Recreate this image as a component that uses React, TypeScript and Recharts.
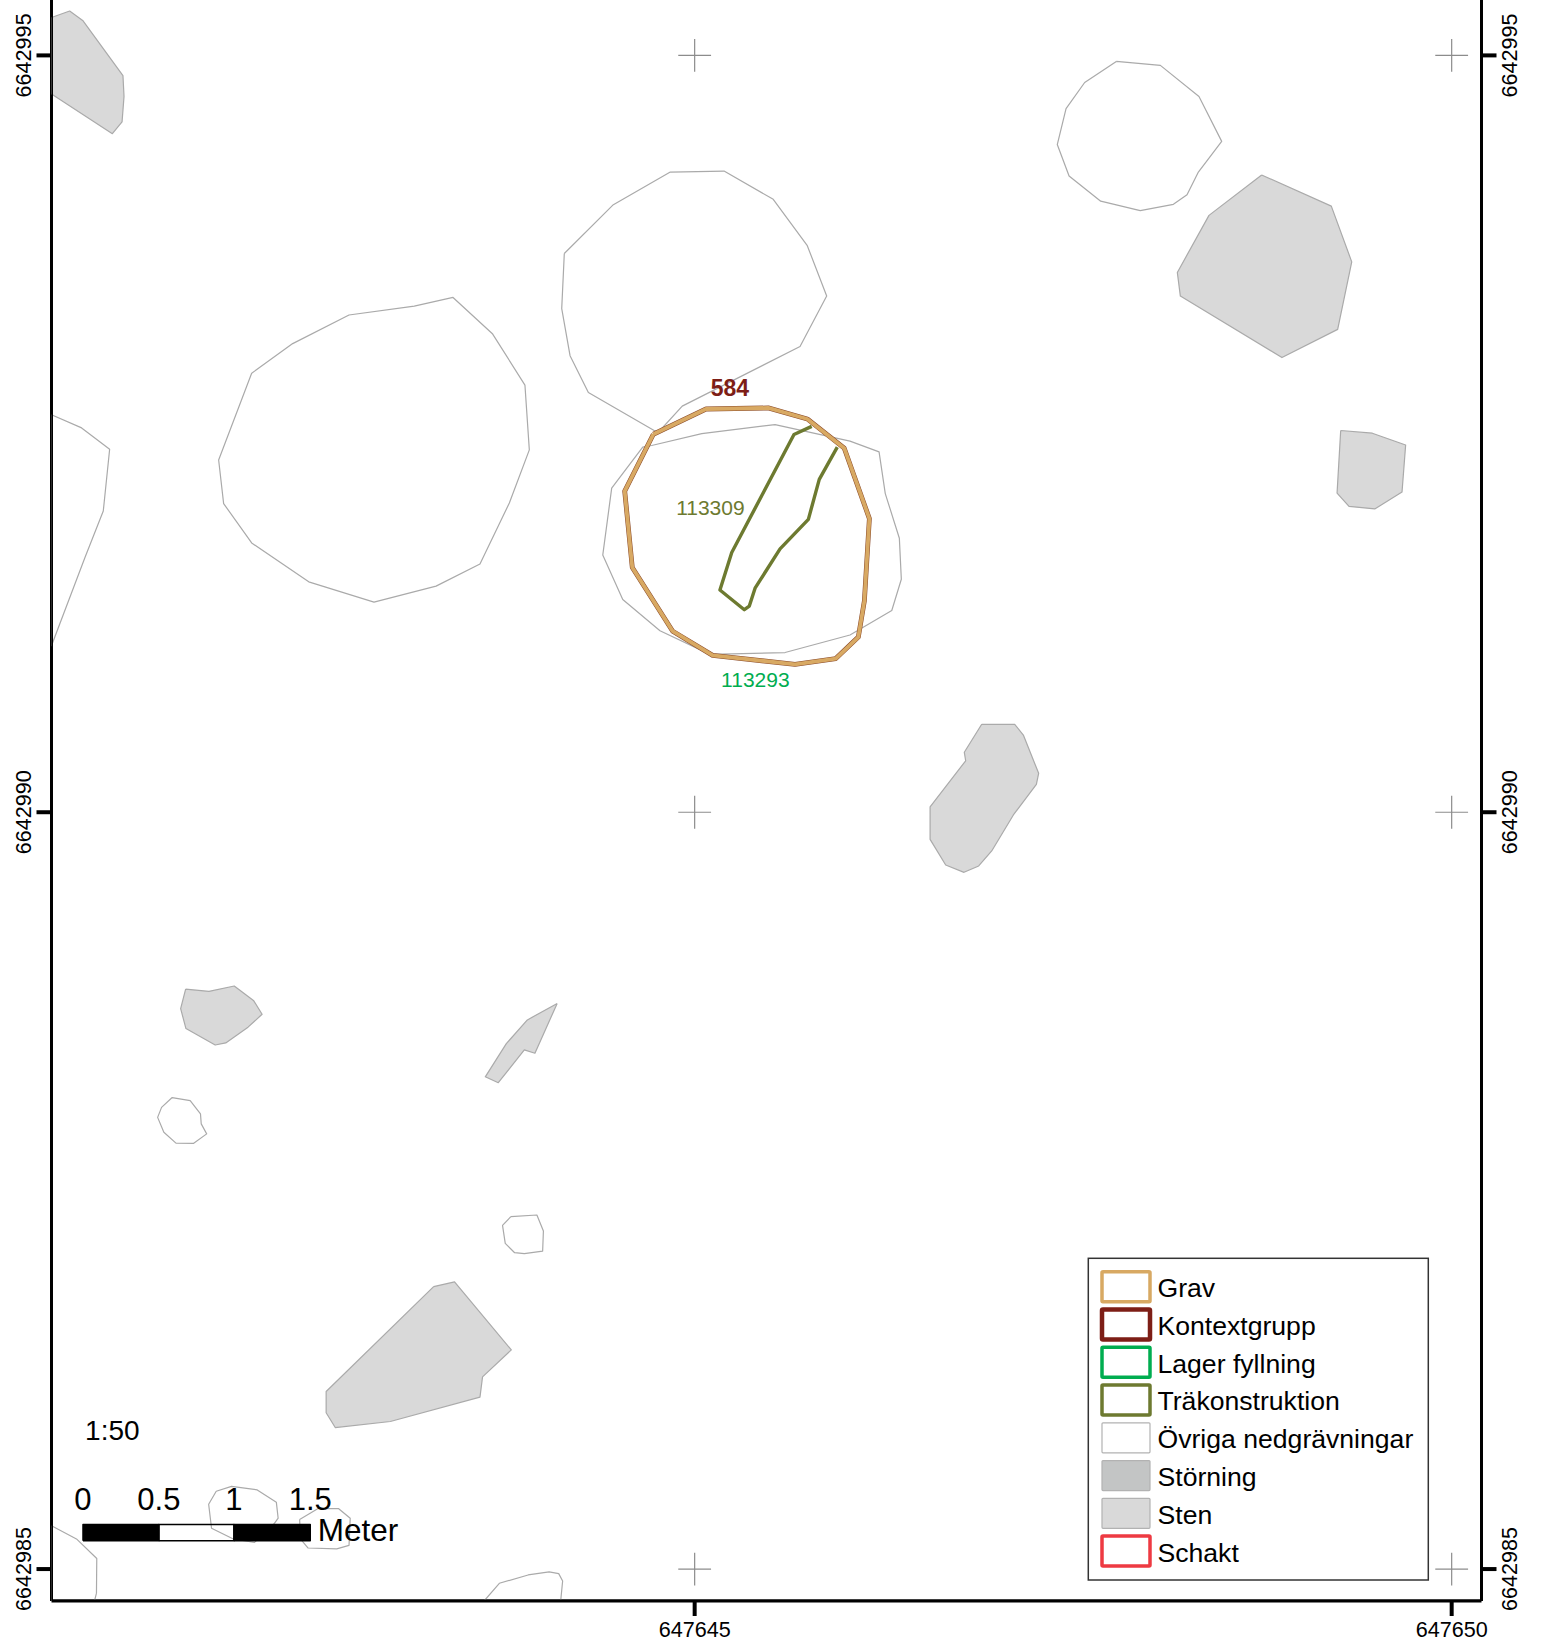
import { ScatterChart, Scatter, XAxis, YAxis } from "recharts";

// map origin, all outlines below are metres east / north of this point
const E0 = 647640;
const N0 = 6642985;

const eastTicks = [647645, 647650];
const northTicks = [6642985, 6642990, 6642995];

type Ring = number[][];

const stenRings: Ring[] = [
  [[0.752, 10.25], [0.872, 10.293], [0.958, 10.231], [1.224, 9.866], [1.231, 9.729], [1.218, 9.561], [1.154, 9.483], [0.752, 9.745]],
  [[8.745, 9.21], [9.205, 9.004], [9.34, 8.636], [9.247, 8.19], [8.879, 8.004], [8.208, 8.41], [8.188, 8.566], [8.397, 8.943]],
  [[9.267, 7.522], [9.476, 7.504], [9.696, 7.426], [9.672, 7.115], [9.492, 7.004], [9.322, 7.02], [9.243, 7.108]],
  [[6.896, 5.581], [7.114, 5.581], [7.171, 5.51], [7.272, 5.257], [7.257, 5.184], [7.105, 4.982], [6.962, 4.744], [6.876, 4.645], [6.779, 4.603], [6.658, 4.651], [6.555, 4.821], [6.555, 5.036], [6.79, 5.34], [6.781, 5.396]],
  [[1.638, 3.831], [1.792, 3.817], [1.959, 3.852], [2.088, 3.754], [2.143, 3.665], [2.05, 3.58], [1.903, 3.476], [1.833, 3.462], [1.64, 3.571], [1.605, 3.702]],
  [[4.092, 3.737], [3.895, 3.628], [3.756, 3.471], [3.617, 3.252], [3.703, 3.213], [3.875, 3.43], [3.945, 3.408]],
  [[3.276, 1.866], [3.414, 1.897], [3.789, 1.448], [3.599, 1.27], [3.582, 1.136], [2.99, 0.975], [2.626, 0.935], [2.566, 1.033], [2.566, 1.173]],
];

const nedgravningRings: Ring[] = [
  [[0.752, 7.626], [0.951, 7.539], [1.136, 7.398], [1.094, 6.99], [0.973, 6.683], [0.752, 6.1]],
  [[2.074, 7.9], [2.345, 8.096], [2.717, 8.285], [3.148, 8.344], [3.404, 8.401], [3.666, 8.159], [3.879, 7.822], [3.908, 7.394], [3.776, 7.043], [3.582, 6.64], [3.292, 6.494], [2.882, 6.388], [2.451, 6.522], [2.074, 6.779], [1.889, 7.039], [1.856, 7.327]],
  [[4.139, 8.691], [4.463, 9.014], [4.839, 9.229], [5.194, 9.236], [5.519, 9.049], [5.744, 8.743], [5.872, 8.41], [5.696, 8.077], [4.918, 7.683], [4.771, 7.522], [4.738, 7.518], [4.298, 7.773], [4.177, 8.016], [4.122, 8.327]],
  [[4.716, 7.423], [5.047, 7.501], [5.531, 7.561], [6.026, 7.452], [6.218, 7.381], [6.259, 7.105], [6.352, 6.81], [6.365, 6.539], [6.302, 6.333], [6.026, 6.171], [5.597, 6.055], [5.101, 6.043], [4.771, 6.199], [4.525, 6.405], [4.393, 6.699], [4.452, 7.141], [4.657, 7.412]],
  [[7.785, 9.96], [8.076, 9.934], [8.331, 9.729], [8.481, 9.432], [8.327, 9.229], [8.252, 9.08], [8.162, 9.016], [7.943, 8.974], [7.682, 9.037], [7.473, 9.203], [7.395, 9.411], [7.453, 9.648], [7.576, 9.821]],
  [[1.549, 3.115], [1.668, 3.095], [1.736, 3.007], [1.741, 2.941], [1.777, 2.875], [1.689, 2.812], [1.574, 2.814], [1.494, 2.886], [1.453, 2.984], [1.479, 3.05]],
  [[3.786, 2.328], [3.958, 2.339], [4.001, 2.233], [3.996, 2.101], [3.875, 2.084], [3.811, 2.09], [3.749, 2.152], [3.731, 2.27]],
  [[1.84, 0.514], [1.941, 0.546], [2.111, 0.523], [2.237, 0.442], [2.249, 0.336], [2.222, 0.299], [2.093, 0.176], [1.953, 0.199], [1.809, 0.27], [1.79, 0.428]],
  [[2.391, 0.328], [2.51, 0.399], [2.649, 0.399], [2.725, 0.336], [2.717, 0.156], [2.636, 0.133], [2.447, 0.139], [2.396, 0.199]],
  [[0.752, 0.286], [0.917, 0.199], [1.051, 0.07], [1.049, -0.159], [1.036, -0.211], [0.752, -0.211]],
  [[3.609, -0.211], [3.71, -0.094], [3.9, -0.039], [4.039, -0.019], [4.102, -0.03], [4.128, -0.079], [4.115, -0.211]],
];

const gravRing: Ring = [[4.727, 7.497], [5.075, 7.664], [5.486, 7.671], [5.744, 7.598], [5.988, 7.405], [6.154, 6.94], [6.121, 6.397], [6.081, 6.157], [5.932, 6.015], [5.663, 5.977], [5.119, 6.036], [4.855, 6.196], [4.588, 6.617], [4.538, 7.121]];

const trakonstruktionLine: Ring = [[5.773, 7.549], [5.656, 7.495], [5.245, 6.716], [5.167, 6.468], [5.328, 6.338], [5.361, 6.362], [5.399, 6.48], [5.564, 6.74], [5.751, 6.935], [5.823, 7.199], [5.942, 7.412]];

// left, bottom and right edge of the map, redrawn over the clipped outlines
const frameLine: Ring = [[0.752, 10.366], [0.752, -0.211], [10.197, -0.211], [10.197, 10.366]];

const scaleBarStops = [0.96, 1.461, 1.957, 2.461];
const scaleBarLabels = ["0", "0.5", "1", "1.5"];

const legendNames = ["Grav", "Kontextgrupp", "Lager fyllning", "Träkonstruktion", "Övriga nedgrävningar", "Störning", "Sten", "Schakt"];
const legendStyles = [
  { stroke: "#d8a963", strokeWidth: 3.5, fill: "#fff" },
  { stroke: "#7d1e16", strokeWidth: 4.5, fill: "#fff" },
  { stroke: "#00ad50", strokeWidth: 3.5, fill: "#fff" },
  { stroke: "#6d7a30", strokeWidth: 3.5, fill: "#fff" },
  { stroke: "#b2b2b2", strokeWidth: 1.2, fill: "#fff" },
  { stroke: "#b2b2b2", strokeWidth: 1.2, fill: "#c3c5c5" },
  { stroke: "#b2b2b2", strokeWidth: 1.2, fill: "#d9d9d9" },
  { stroke: "#ee3a42", strokeWidth: 3.5, fill: "#fff" },
];

const FONT = '"Liberation Sans", Arial, sans-serif';
const TICK_SIZE = 21.6;
const crossPoints = eastTicks.flatMap((e) => northTicks.map((n) => ({ e, n })));

const toPoints = (ring: Ring) => ring.map(([e, n]) => ({ e: E0 + e, n: N0 + n }));
const closed = (ring: Ring) => toPoints([...ring, ring[0]]);

const NoMark = () => null;

const CrossMark = ({ cx, cy }: any) => (
  <g stroke="#8c8c8c" strokeWidth={1.2}>
    <line x1={cx - 16.4} x2={cx + 16.4} y1={cy} y2={cy} />
    <line x1={cx} x2={cx} y1={cy - 16.4} y2={cy + 16.4} />
  </g>
);

const LeftTick = ({ x, y, payload }: any) => (
  <text x={x - 3.5} y={y} transform={`rotate(-90 ${x - 3.5} ${y})`} textAnchor="middle" fontFamily={FONT} fontSize={TICK_SIZE} fill="#000">
    {payload.value}
  </text>
);

const RightTick = ({ x, y, payload }: any) => (
  <text x={x + 18.5} y={y} transform={`rotate(-90 ${x + 18.5} ${y})`} textAnchor="middle" fontFamily={FONT} fontSize={TICK_SIZE} fill="#000">
    {payload.value}
  </text>
);

const BottomTick = ({ x, y, payload }: any) => (
  <text x={x} y={y + 18.5} textAnchor="middle" fontFamily={FONT} fontSize={TICK_SIZE} fill="#000">
    {payload.value}
  </text>
);

function label(text: string, size: number, color: string, anchor: string, weight = "normal") {
  return ({ cx, cy }: any) => (
    <text x={cx} y={cy} textAnchor={anchor} fontFamily={FONT} fontSize={size} fontWeight={weight} fill={color}>
      {text}
    </text>
  );
}

function MapLegend() {
  return (
    <g fontFamily={FONT}>
      <rect x={1088.3} y={1258.3} width={340} height={321.7} fill="#fff" stroke="#333" strokeWidth={1.5} />
      {legendNames.map((name, i) => (
        <g key={name}>
          <rect x={1102} y={1271.8 + 37.75 * i} width={48} height={30} rx={1} {...legendStyles[i]} />
          <text x={1157.5} y={1297 + 37.8 * i} fontSize={26.6} fill="#000">
            {name}
          </text>
        </g>
      ))}
    </g>
  );
}

function Ring({ key, data, stroke, strokeWidth = 1.2, fill = "none" }: any) {
  return (
    <Scatter
      key={key}
      data={data}
      line={{ stroke, strokeWidth, fill, strokeLinejoin: "round" }}
      shape={NoMark}
      isAnimationActive={false}
      legendType="none"
    />
  );
}

export default function App() {
  return (
    <div style={{ position: "absolute", left: 0, top: 0, background: "#fff" }}>
      <ScatterChart width={1559} height={1640} margin={{ top: 0, right: 0, bottom: 0, left: 0 }}>
        <XAxis
          type="number"
          dataKey="e"
          domain={[E0 + 0.752, E0 + 10.197]}
          ticks={eastTicks}
          interval={0}
          height={39}
          tickSize={15}
          tick={<BottomTick />}
          axisLine={{ stroke: "#000", strokeWidth: 3 }}
          tickLine={{ stroke: "#000", strokeWidth: 4 }}
          allowDataOverflow
        />
        <YAxis
          type="number"
          dataKey="n"
          domain={[N0 - 0.211, N0 + 10.366]}
          ticks={northTicks}
          interval={0}
          width={51.5}
          tickSize={15}
          tick={<LeftTick />}
          axisLine={{ stroke: "#000", strokeWidth: 3 }}
          tickLine={{ stroke: "#000", strokeWidth: 4 }}
          allowDataOverflow
        />
        <YAxis
          yAxisId="right"
          orientation="right"
          type="number"
          dataKey="n"
          domain={[N0 - 0.211, N0 + 10.366]}
          ticks={northTicks}
          interval={0}
          width={77.5}
          tickSize={15}
          tick={<RightTick />}
          axisLine={{ stroke: "#000", strokeWidth: 3 }}
          tickLine={{ stroke: "#000", strokeWidth: 4 }}
          allowDataOverflow
        />

        <Scatter data={crossPoints} shape={CrossMark} isAnimationActive={false} legendType="none" />

        {stenRings.map((ring, i) => Ring({ key: `sten-${i}`, data: closed(ring), stroke: "#aaaaaa", fill: "#d9d9d9" }))}
        {nedgravningRings.map((ring, i) => Ring({ key: `ned-${i}`, data: closed(ring), stroke: "#aaaaaa" }))}
        {Ring({ key: "frame", data: toPoints(frameLine), stroke: "#000", strokeWidth: 3 })}

        {Ring({ key: "tra", data: toPoints(trakonstruktionLine), stroke: "#6d7a30", strokeWidth: 3.4 })}
        {Ring({ key: "grav-edge", data: closed(gravRing), stroke: "#8a4a2a", strokeWidth: 4.8 })}
        {Ring({ key: "grav", data: closed(gravRing), stroke: "#d8a963", strokeWidth: 3.8 })}

        {scaleBarStops.slice(0, -1).map((from, i) => {
          const to = scaleBarStops[i + 1];
          const ring = [[from, 0.187], [to, 0.187], [to, 0.295], [from, 0.295]];
          return Ring({ key: `bar-${i}`, data: closed(ring), stroke: "#000", strokeWidth: 1.5, fill: i === 1 ? "none" : "#000" });
        })}

        {scaleBarLabels.map((text, i) => (
          <Scatter
            key={text}
            data={toPoints([[scaleBarStops[i], 0.39]])}
            shape={label(text, 31, "#000", "middle")}
            isAnimationActive={false}
            legendType="none"
          />
        ))}
        <Scatter data={toPoints([[2.511, 0.185]])} shape={label("Meter", 31.5, "#000", "start")} isAnimationActive={false} legendType="none" />
        <Scatter data={toPoints([[0.974, 0.852]])} shape={label("1:50", 28, "#000", "start")} isAnimationActive={false} legendType="none" />
        <Scatter data={toPoints([[5.233, 7.75]])} shape={label("584", 23, "#7d1e16", "middle", "bold")} isAnimationActive={false} legendType="none" />
        <Scatter data={toPoints([[5.104, 6.964]])} shape={label("113309", 21, "#6d7a30", "middle")} isAnimationActive={false} legendType="none" />
        <Scatter data={toPoints([[5.401, 5.827]])} shape={label("113293", 21, "#00ad50", "middle")} isAnimationActive={false} legendType="none" />

        <MapLegend />
      </ScatterChart>
    </div>
  );
}
